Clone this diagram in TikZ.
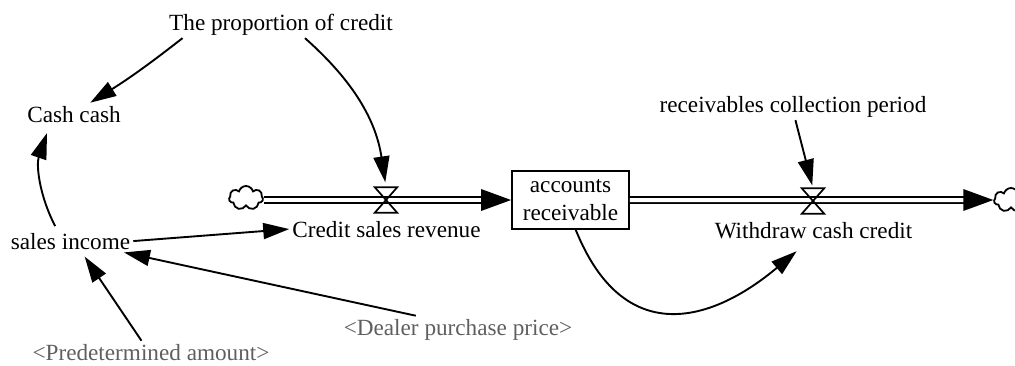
\documentclass[tikz,border=0pt]{standalone}
\usepackage{fontspec}
\setmainfont{Liberation Serif}
\usetikzlibrary{arrows.meta,shapes.symbols}
\definecolor{shadowgray}{RGB}{95,95,95}
\begin{document}
\begin{tikzpicture}[x=1pt,y=-1pt,
  lbl/.style={font=\fontsize{23.2}{28}\selectfont, inner sep=3pt, anchor=base},
  shadowlbl/.style={lbl, text=shadowgray},
  conn/.style={line width=1.9pt, -{Triangle[length=26pt,width=16pt]}},
  pipe/.style={double, double distance=4pt, line width=1.9pt},
  stockbox/.style={draw, line width=1.9pt, minimum width=117pt, minimum height=58pt, inner sep=0pt, align=center, font=\fontsize{23.2}{28}\selectfont},
  valvenode/.style={minimum width=22pt, minimum height=25pt, inner sep=0pt},
  valveline/.style={line width=1.7pt, line join=miter},
  cloudnode/.style={cloud, cloud puffs=7, draw, line width=1.8pt, minimum width=34pt, minimum height=24pt, aspect=1.4, inner sep=0pt}
]
\useasboundingbox (0,0) rectangle (1015,365);

% variables
\node[lbl] (prop) at (281,30) {The proportion of credit};
\node[lbl] (cash) at (74,122) {Cash cash};
\node[lbl] (sales) at (70.5,249) {sales income};
\node[lbl] (credit) at (386.5,237) {Credit sales revenue};
\node[stockbox] (box) at (570.5,200) {accounts\\receivable};
\node[lbl] (recv) at (793,112) {receivables collection period};
\node[lbl] (withdraw) at (813.5,238) {Withdraw cash credit};
\node[shadowlbl] (predet) at (151,360) {<Predetermined amount>};
\node[shadowlbl] (dealer) at (458,335) {<Dealer purchase price>};

% clouds and valves
\node[cloudnode] (cloudL) at (246,198) {};
\node[cloudnode] (cloudR) at (1011,200) {};
\node[valvenode] (valveL) at (386,200) {};
\node[valvenode] (valveR) at (813,201) {};

% pipes
\draw[pipe] (cloudL.east |- box.west) -- ([xshift=-29pt]box.west);
\fill ([xshift=-30pt,yshift=11pt]box.west) -- (box.west) -- ([xshift=-30pt,yshift=-11pt]box.west) -- cycle;
\draw[pipe] (box.east) -- ([xshift=-29pt]cloudR.west);
\fill ([xshift=-30pt,yshift=11pt]cloudR.west) -- (cloudR.west) -- ([xshift=-30pt,yshift=-11pt]cloudR.west) -- cycle;

\draw[valveline] (valveL.north west) -- (valveL.north east) -- (valveL.south west) -- (valveL.south east) -- cycle;
\draw[valveline] (valveR.north west) -- (valveR.north east) -- (valveR.south west) -- (valveR.south east) -- cycle;

% connectors
\draw[conn] (prop.188) to[bend left=3] (cash.35);
\draw[conn, shorten >=5pt] (prop.330) to[bend left=20] (valveL.north);
\draw[conn, shorten <=4pt, shorten >=8pt] (sales.140) to[bend left=23] (cash.205);
\draw[conn] (sales.east) -- (credit.west);
\draw[conn, shorten >=5pt] (predet.130) -- (sales.-45);
\draw[conn] (dealer.162) -- (sales.-12);
\draw[conn, shorten >=3pt] (recv.-80) -- (valveR.north);
\draw[conn, shorten >=15pt] (box.-80) to[out=-68, in=220, looseness=1.4] (withdraw.245);
\end{tikzpicture}
\end{document}
